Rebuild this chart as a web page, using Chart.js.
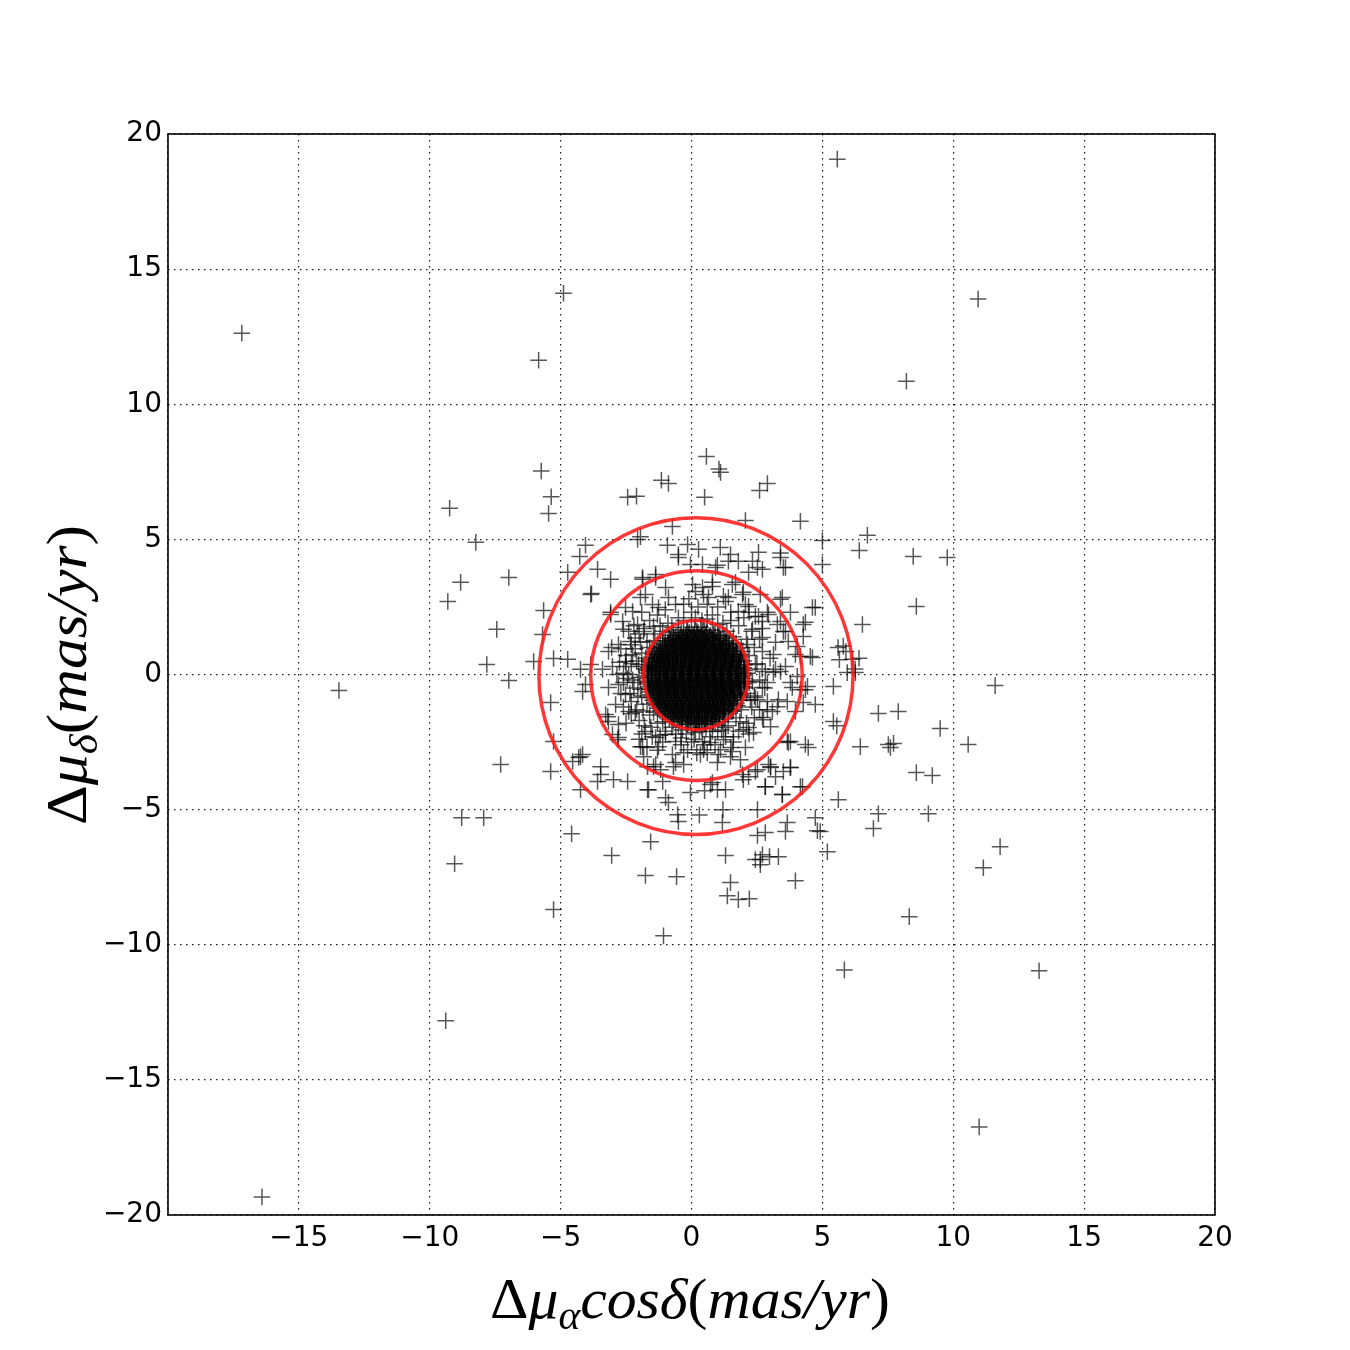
<!DOCTYPE html>
<html><head><meta charset="utf-8">
<script src="https://cdn.jsdelivr.net/npm/chart.js@4.4.1/dist/chart.umd.min.js"></script>
<style>html,body{margin:0;padding:0;background:#fff}</style>
</head><body>
<canvas id="c" width="1350" height="1350"></canvas>
<script>
const xTicks = [-20,-15,-10,-5,0,5,10,15,20];
const yTicks = [-20,-15,-10,-5,0,5,10,15,20];

// individually read stars (proper-motion offsets, mas/yr)
const sparsePoints = [
[5.57,19.07],[-17.18,12.63],[-4.89,14.11],[10.95,13.89],[-5.84,11.63],[8.21,10.85],[-13.47,-0.59],[-16.41,-19.33],[10.99,-16.74],[-9.39,-12.81],[13.28,-10.96],[5.84,-10.93],[8.32,-8.96],[-1.07,-9.67],[-5.27,-8.70],
[-9.24,6.15],[-9.31,2.70],[-8.82,3.41],[-8.24,4.89],[-7.44,1.67],[-6.98,3.59],[-7.82,0.37],[-6.98,-0.22],[-7.29,-3.33],[-8.78,-5.30],[-7.94,-5.30],[-9.05,-7.00],
[-5.74,7.53],[-5.36,6.58],[-5.46,5.96],[-4.05,4.78],[-4.27,4.37],[-4.73,3.78],[-3.85,2.96],[-5.65,2.37],[-5.69,1.48],[-6.03,0.48],[-5.27,0.59],[-4.73,0.56],
[-4.58,-5.89],[-3.05,-6.70],[-1.56,-6.19],[-1.76,-7.44],[-0.57,-7.48],[1.30,-6.70],[1.49,-7.70],[1.37,-8.19],[1.79,-8.33],[2.21,-8.30],[3.97,-7.63],[2.63,-6.85],[2.98,-6.74],[2.52,-5.96],[2.82,-5.85],[4.81,-5.78],[5.19,-6.56],[5.61,-4.63],[6.95,-5.70],[7.14,-5.15],
[7.14,-1.44],[7.90,-1.37],[7.52,-2.59],[7.72,-2.55],[7.60,-2.70],[6.45,-2.67],[8.59,-3.63],[9.20,-3.74],[9.05,-5.15],[9.50,-2.00],[10.57,-2.59],[11.60,-0.41],[11.15,-7.15],[11.79,-6.37],
[8.59,2.52],[8.47,4.37],[9.77,4.33],[6.72,5.15],[6.41,4.59],[6.53,1.85],[6.15,0.56],[4.16,5.67],[5.00,4.96],[5.00,4.07],[4.73,2.48],[4.27,1.85],[4.35,1.93],[4.62,2.48],
[5.60,1.00],[5.80,1.05],[5.90,0.85],[5.65,0.55],[6.40,0.60],[6.25,0.20],[4.62,0.63],[4.16,0.67],[5.95,0.07],[6.26,0.07],
[0.57,8.07],[1.11,7.48],[1.05,7.60],[0.50,6.56],[2.60,6.81],[2.90,7.07],[2.06,5.70],[-1.15,7.19],[-0.88,7.07],[-2.44,6.56],[-2.10,6.60],[-2.06,5.00],[-1.95,5.10],[-0.73,5.48],[-0.92,4.78],[-0.50,4.44],[-0.15,4.81],[0.27,4.63],[1.10,4.70],[-0.04,4.07],[-1.87,3.59],[-1.37,3.59],
[1.49,4.44],[1.79,4.19],[2.56,4.52],[3.40,4.33],[3.59,3.96],[2.52,3.96],[2.18,3.78],[0.99,4.04],[0.42,4.07],[0.92,3.96],[1.41,4.19],[2.33,4.19],[2.71,3.89],[3.51,3.96],[3.40,4.50],
[0.80,3.41],[0.46,2.96],[1.22,2.89],[1.68,3.41],[1.98,3.04],[2.18,2.52],[2.63,2.96],[2.56,2.15],[2.90,2.30],[3.40,1.96],[3.51,1.59],[3.78,2.30],[4.04,1.04],[4.27,1.41],[4.54,0.67],[3.40,2.78],
[0.42,3.22],[0.80,3.26],[0.65,2.85],[1.56,3.33],[1.41,2.85],[1.95,2.96],[2.06,2.59],[1.79,2.33],[2.44,2.15],[2.71,1.96],[2.94,2.22],[3.47,2.85],[3.28,1.85],[3.59,1.59],[2.33,1.67],[2.71,1.37],[3.21,1.19],[3.70,1.22],[2.71,0.85],[3.13,0.74],[3.59,0.30],[3.97,0.74],[2.44,0.37],[2.82,0.11],[3.21,0.19],[2.14,1.11],
[-1.87,3.52],[-1.37,3.70],[-0.50,4.33],[-1.95,2.85],[-1.76,2.96],[-0.99,3.22],[-0.88,2.85],[0.04,3.33],[0.15,3.07],[-2.52,2.48],[-2.25,2.33],[-1.49,2.59],[-1.26,2.48],[-0.61,2.59],[-3.09,2.22],[-2.63,1.96],[-2.60,1.67],[-2.06,1.85],[-1.83,1.59],[-1.45,1.78],[-3.17,0.85],[-2.79,1.11],[-2.33,1.22],[-2.25,0.74],[-3.85,0.37],[-3.40,0.19],[-4.24,0.19],[-3.02,0.30],[-2.52,0.48],[-2.02,0.37],[-3.82,3.00],[-3.09,2.30],[-3.05,1.00],[-3.59,3.89],[-3.09,3.52],
[-4.05,-0.37],[-4.16,-0.63],[-3.17,-0.48],[-2.79,-0.37],[-2.52,-0.74],[-2.90,-1.11],[-3.28,-1.48],[-3.17,-1.74],[-2.79,-1.85],[-3.02,-2.22],[-2.79,-2.33],[-2.40,-1.37],[-2.15,-1.40],[-1.76,-2.11],[-1.37,-2.33],[-1.87,-2.67],[-1.26,-2.67],[-0.99,-2.22],[-0.61,-2.48],[-0.73,-2.96],[-1.37,-3.33],[-1.68,-3.41],[-0.61,-3.26],[-4.31,-3.07],[-4.16,-2.96],[-3.47,-3.41],[-3.47,-3.70],[-2.98,-3.89],[-2.44,-3.96],[-1.68,-4.26],[-1.10,-3.96],[-0.04,-4.37],[-0.30,-3.33],
[-5.38,-1.04],[-5.27,-2.48],[-5.38,-3.59],[-4.24,-3.04],[-4.54,-3.22],[-3.59,-3.96],[-4.24,-4.26],[-1.64,-4.26],[-0.99,-4.56],[-0.88,-4.74],[-0.53,-5.19],[-0.50,-5.44],[-3.20,-1.56],[-2.82,-2.41],[-1.95,-2.67],[-1.83,-3.04],[-1.45,-3.41],[-1.18,-3.52],[-0.69,-3.41],[-0.15,-2.78],
[5.42,-0.44],[5.42,-1.74],[5.55,-1.90],[4.73,-5.30],[4.92,-5.81],[3.66,-5.48],[3.59,-5.81],[2.52,-5.00],[1.18,-5.48],[2.71,-6.67],[3.32,-6.74],[2.44,-6.85],[2.63,-7.04],[4.35,-2.59],[3.78,-2.48],[3.66,-2.48],[3.78,-3.44],[4.16,-4.15],[3.47,-4.44],[2.82,-4.15],[3.02,-3.44],[4.73,-1.11],[4.27,-1.04],[4.43,-0.44],[3.78,-0.30],[4.16,-0.56],[4.04,-0.07],[3.13,0.07],[3.40,0.11],
[2.52,-0.93],[2.90,-1.30],[3.28,-1.19],[3.66,-1.00],[2.75,-1.67],[3.02,-1.93],[2.37,-2.15],[1.98,-2.04],[1.60,-2.30],[1.22,-2.41],[0.73,-2.52],[0.46,-2.78],[0.34,-2.96],[1.11,-2.78],[1.49,-3.04],[0.99,-3.26],[1.87,-3.15],[2.52,-3.52],[3.02,-3.41],[3.21,-3.78],[3.78,-3.44],[2.18,-3.78],[1.98,-3.89],[0.73,-4.07],[0.99,-4.26],[2.82,-4.15],[3.47,-4.44],[4.24,-4.15],
[2.33,-0.26],[2.71,-0.48],[2.44,-0.85],[3.09,-1.37],[3.32,-0.93],[3.85,-0.48],[4.35,-0.56],[3.97,-1.37],[2.71,-1.59],[2.18,-1.96],[1.30,-1.96],[0.80,-2.11],[0.42,-2.48],[1.03,-2.96],[1.56,-2.85],[2.06,-2.70],[2.94,-3.33],[2.44,-3.59],[1.95,-3.70],[3.51,-3.59],[3.70,-2.52],[4.46,-2.70],[0.80,-4.00],[1.30,-4.26],[0.50,-4.30],[1.20,-5.00],[0.30,-5.20],
[-0.50,2.10],[0.00,2.30],[0.40,2.00],[0.80,2.20],[1.20,1.90],[-0.90,1.90],[0.25,2.50],[-0.30,2.60],[0.60,2.60],[1.50,2.30],[-1.30,2.20],[1.00,2.50],
[-1.40,1.50],[-1.70,1.20],[-1.20,1.80],[-1.90,0.80],[-2.00,1.50],[-1.60,2.00],[-2.30,1.10],[-2.10,0.50],[-2.50,0.70],[-2.20,1.80],
[-1.80,0.20],[-2.00,-0.10],[-2.20,-0.50],[-1.90,-0.80],[-2.40,0.00],[-2.60,-0.30],[-2.50,0.30],[-2.30,-1.00],[-2.70,-0.70],[-2.10,-1.30],
[-1.60,-1.50],[-1.30,-1.80],[-1.80,-1.90],[-1.00,-2.10],[-1.50,-2.30],[-2.00,-1.70],[-0.60,-2.20],[-1.10,-2.50],[-1.90,-2.20],
[-0.20,-2.20],[0.30,-2.10],[0.70,-2.30],[0.00,-2.50],[0.50,-2.60],[-0.40,-2.60],[1.00,-2.10],[0.90,-2.60],[0.20,-2.90],
[1.40,-1.90],[1.70,-1.60],[1.90,-1.30],[1.30,-2.30],[1.80,-2.10],[2.10,-1.80],[2.30,-1.20],[2.40,-1.60],[1.60,-2.50],
[2.10,-0.70],[2.20,-0.30],[2.10,0.20],[2.40,-0.80],[2.60,-0.20],[2.50,0.40],[2.80,-0.50],[2.20,0.70],[2.70,0.20],[2.90,-1.00],
[1.90,1.00],[1.60,1.40],[2.10,1.30],[1.80,1.80],[2.40,1.00],[2.30,1.60],[1.50,2.00],[2.60,1.30],[2.00,2.10],
[-1.60,1.00],[-1.75,0.60],[-1.90,0.30],[-2.05,-0.30],[-1.95,-0.55],[-1.70,-1.10],[-1.45,-1.40],[-1.10,-1.75],[-0.75,-1.95],[-0.35,-2.05],[0.15,-2.15],[0.55,-2.00],[1.20,-1.75],[1.55,-1.35],[1.95,-0.95],[2.05,-0.50],[2.15,0.05],[2.00,0.50],[1.95,0.85],[1.70,1.15],[1.35,1.60],[1.00,1.85],[0.60,2.05],[0.15,2.10],[-0.30,2.00],[-0.75,1.75],[-1.10,1.60],[-1.45,1.25],
[-2.30,0.40],[-2.45,-0.15],[-2.35,-0.70],[-2.15,1.35],[-2.70,0.95],[-2.85,0.00],[-2.60,-1.20],[-2.40,1.60],[-1.90,2.30],[-1.00,2.40],[-0.10,2.80],[1.30,2.70],[2.20,2.30],[2.70,1.70],[3.00,0.60],[2.90,-0.30],[2.60,-1.30],[2.20,-2.20],[1.50,-2.70],[0.60,-2.90],[-0.30,-2.90],[-1.30,-2.80],[-2.00,-2.40],[-2.50,-1.80],[-1.70,-2.70],
[-2.15,0.95],[-1.95,1.20],[-2.25,-0.20],[-2.05,-0.85],[-1.85,-1.35],[-2.30,-1.45],[-1.55,-1.95],[-1.20,-2.25],[-0.40,-2.35],[0.10,-2.40],[1.15,-2.05],[1.85,-1.75],[2.25,-0.95],[-2.60,0.05],[-2.75,0.45],[-1.80,1.70]
];

// dense core, read row by row (y of each row, x values along it) - two interleaved passes
const coreRowY = [1.6,1.5,1.4,1.3,1.2,1.1,1.0,0.9,0.8,0.7,0.6,0.5,0.4,0.3,0.2,0.1,0.0,-0.1,-0.2,-0.3,-0.4,-0.5,-0.6,-0.7,-0.8,-0.9,-1.0,-1.1,-1.2,-1.3,-1.4,-1.5,-1.6,-1.7,-1.8];
const coreRowX = [
[-0.15,0.2,0.5],
[-0.42,-0.1,0.22,0.55,0.85],
[-0.62,-0.3,0.05,0.33,0.68,1.0],
[-0.8,-0.48,-0.2,0.15,0.45,0.77,1.1],
[-0.9,-0.6,-0.28,0.02,0.35,0.62,0.95,1.3],
[-1.02,-0.72,-0.4,-0.12,0.2,0.5,0.83,1.12,1.42],
[-1.1,-0.78,-0.5,-0.18,0.1,0.42,0.72,1.05,1.35],
[-1.2,-0.92,-0.6,-0.3,0.0,0.3,0.6,0.9,1.2,1.55],
[-1.25,-0.95,-0.65,-0.38,-0.05,0.25,0.55,0.88,1.18,1.48],
[-1.32,-1.05,-0.72,-0.42,-0.12,0.18,0.48,0.78,1.1,1.4,1.7],
[-1.38,-1.08,-0.8,-0.5,-0.2,0.12,0.4,0.72,1.02,1.35,1.65],
[-1.42,-1.15,-0.85,-0.55,-0.25,0.05,0.35,0.65,0.98,1.28,1.58,1.82],
[-1.45,-1.12,-0.82,-0.52,-0.2,0.1,0.42,0.7,1.0,1.32,1.62],
[-1.48,-1.2,-0.9,-0.58,-0.28,0.02,0.32,0.62,0.92,1.25,1.55,1.85],
[-1.5,-1.18,-0.88,-0.6,-0.3,0.0,0.28,0.6,0.9,1.22,1.52,1.88],
[-1.52,-1.22,-0.92,-0.62,-0.32,-0.02,0.3,0.58,0.88,1.2,1.5,1.8],
[-1.55,-1.25,-0.95,-0.65,-0.35,-0.05,0.25,0.55,0.85,1.15,1.45,1.75],
[-1.53,-1.2,-0.9,-0.6,-0.3,0.02,0.32,0.62,0.92,1.22,1.52,1.9],
[-1.55,-1.25,-0.95,-0.65,-0.35,-0.05,0.25,0.55,0.85,1.15,1.48,1.78],
[-1.5,-1.2,-0.88,-0.58,-0.28,0.05,0.35,0.65,0.95,1.25,1.55,1.85],
[-1.48,-1.18,-0.85,-0.55,-0.25,0.08,0.38,0.68,0.98,1.28,1.58,1.88],
[-1.45,-1.15,-0.82,-0.52,-0.22,0.1,0.4,0.7,1.02,1.32,1.62],
[-1.42,-1.1,-0.8,-0.5,-0.18,0.12,0.42,0.75,1.05,1.35,1.65],
[-1.4,-1.1,-0.78,-0.48,-0.15,0.15,0.45,0.78,1.08,1.4,1.7],
[-1.35,-1.05,-0.72,-0.42,-0.1,0.2,0.5,0.82,1.12,1.45,1.75],
[-1.3,-1.0,-0.68,-0.38,-0.08,0.22,0.52,0.85,1.15,1.48],
[-1.25,-0.95,-0.62,-0.32,-0.02,0.28,0.58,0.9,1.2,1.5],
[-1.2,-0.88,-0.58,-0.28,0.02,0.32,0.62,0.95,1.25,1.58],
[-1.12,-0.8,-0.5,-0.2,0.1,0.4,0.7,1.0,1.3],
[-1.02,-0.7,-0.4,-0.1,0.22,0.52,0.82,1.12,1.42],
[-0.92,-0.6,-0.3,0.0,0.32,0.62,0.92,1.25],
[-0.8,-0.5,-0.18,0.12,0.42,0.75,1.05],
[-0.65,-0.35,-0.02,0.3,0.62,0.95],
[-0.45,-0.12,0.2,0.5,0.82],
[-0.15,0.2,0.52]
];
const coreRowY2 = [1.75,1.65,1.55,1.45,1.35,1.25,1.15,1.05,0.95,0.85,0.75,0.65,0.55,0.45,0.35,0.25,0.15,0.05,-0.05,-0.15,-0.25,-0.35,-0.45,-0.55,-0.65,-0.75,-0.85,-0.95,-1.05,-1.15,-1.25,-1.35,-1.45,-1.55,-1.65,-1.75,-1.85,-1.95];
const coreRowX2 = [
[0.0,0.35],
[-0.5,-0.18,0.12,0.45,0.8],
[-0.7,-0.38,-0.08,0.25,0.58,0.9],
[-0.85,-0.55,-0.22,0.1,0.4,0.72,1.05,1.28],
[-1.0,-0.68,-0.35,-0.05,0.28,0.58,0.9,1.22],
[-1.1,-0.8,-0.48,-0.15,0.15,0.48,0.8,1.1,1.45],
[-1.2,-0.88,-0.55,-0.25,0.05,0.38,0.68,1.0,1.3,1.6],
[-1.28,-0.95,-0.65,-0.35,-0.02,0.28,0.6,0.92,1.22,1.55],
[-1.35,-1.02,-0.7,-0.4,-0.08,0.22,0.52,0.85,1.15,1.45,1.75],
[-1.42,-1.12,-0.78,-0.48,-0.15,0.15,0.45,0.78,1.08,1.4,1.72],
[-1.48,-1.15,-0.85,-0.52,-0.22,0.08,0.4,0.7,1.02,1.32,1.62,1.88],
[-1.52,-1.22,-0.9,-0.58,-0.28,0.05,0.35,0.65,0.95,1.28,1.6,1.9],
[-1.55,-1.25,-0.92,-0.62,-0.3,0.0,0.3,0.62,0.92,1.25,1.55,1.85],
[-1.6,-1.3,-0.98,-0.68,-0.35,-0.05,0.25,0.58,0.88,1.18,1.5,1.8],
[-1.62,-1.32,-1.0,-0.7,-0.38,-0.08,0.22,0.52,0.85,1.15,1.48,1.78,2.02],
[-1.65,-1.35,-1.05,-0.72,-0.42,-0.12,0.18,0.5,0.8,1.1,1.42,1.72,2.0],
[-1.65,-1.35,-1.02,-0.7,-0.4,-0.1,0.2,0.52,0.82,1.12,1.45,1.75,2.05],
[-1.68,-1.38,-1.08,-0.75,-0.45,-0.15,0.15,0.45,0.78,1.08,1.38,1.7,2.0],
[-1.66,-1.35,-1.05,-0.78,-0.48,-0.18,0.12,0.42,0.72,1.02,1.35,1.65,1.98],
[-1.68,-1.38,-1.08,-0.75,-0.45,-0.12,0.18,0.48,0.78,1.1,1.4,1.7,2.02],
[-1.65,-1.35,-1.02,-0.72,-0.42,-0.1,0.2,0.5,0.82,1.12,1.42,1.75,2.05],
[-1.66,-1.32,-1.0,-0.7,-0.38,-0.08,0.22,0.55,0.85,1.15,1.48,1.78,2.0],
[-1.62,-1.3,-0.98,-0.68,-0.35,-0.05,0.25,0.58,0.88,1.18,1.5,1.8,2.02],
[-1.6,-1.28,-0.95,-0.65,-0.32,-0.02,0.28,0.6,0.9,1.2,1.52,1.82],
[-1.58,-1.25,-0.92,-0.62,-0.3,0.0,0.32,0.62,0.92,1.22,1.55,1.85],
[-1.55,-1.22,-0.9,-0.6,-0.28,0.02,0.35,0.65,0.95,1.25,1.58,1.88],
[-1.52,-1.2,-0.88,-0.55,-0.25,0.08,0.38,0.68,1.0,1.3,1.62,1.9],
[-1.48,-1.15,-0.82,-0.52,-0.2,0.1,0.42,0.72,1.02,1.35,1.65,1.88],
[-1.42,-1.1,-0.78,-0.48,-0.15,0.15,0.45,0.78,1.08,1.4,1.72],
[-1.35,-1.05,-0.72,-0.42,-0.1,0.2,0.5,0.82,1.12,1.45,1.75],
[-1.28,-0.98,-0.65,-0.35,-0.05,0.25,0.58,0.88,1.2,1.52],
[-1.2,-0.9,-0.58,-0.28,0.02,0.32,0.65,0.95,1.28,1.6],
[-1.1,-0.78,-0.48,-0.18,0.12,0.42,0.75,1.05,1.4],
[-1.0,-0.7,-0.38,-0.08,0.25,0.55,0.88,1.2],
[-0.85,-0.55,-0.22,0.08,0.4,0.72,1.05,1.25],
[-0.7,-0.38,-0.05,0.28,0.6,0.9],
[-0.5,-0.15,0.15,0.48,0.8],
[0.0,0.38]
];

// red rings: centre and radii (data units)
const ringCenterX = [0.17,0.19,0.17];
const ringCenterY = [-0.02,-0.04,-0.06];
const ringRadiusX = [2.0,4.04,6.0];
const ringRadiusY = [2.02,3.88,5.86];

const points = sparsePoints.map(p => ({x:p[0], y:p[1]}));
coreRowY.forEach((y, i) => coreRowX[i].forEach(x => points.push({x, y})));
coreRowY2.forEach((y, i) => coreRowX2[i].forEach(x => points.push({x, y})));

const fmt = v => v < 0 ? '\u2212' + Math.abs(v) : String(v);

const decorPlugin = {
  id:'decor',
  afterDatasetsDraw(chart){
    const {ctx, chartArea:a, scales:{x, y}} = chart;
    ctx.save();
    ctx.beginPath(); ctx.rect(a.left, a.top, a.right-a.left, a.bottom-a.top); ctx.clip();
    ctx.strokeStyle = 'rgba(255,20,20,0.85)';
    ctx.lineWidth = 3.5;
    for (let i=0;i<ringCenterX.length;i++){
      const cx = x.getPixelForValue(ringCenterX[i]);
      const cy = y.getPixelForValue(ringCenterY[i]);
      const rx = Math.abs(x.getPixelForValue(ringCenterX[i]+ringRadiusX[i]) - cx);
      const ry = Math.abs(y.getPixelForValue(ringCenterY[i]+ringRadiusY[i]) - cy);
      ctx.beginPath(); ctx.ellipse(cx, cy, rx, ry, 0, 0, Math.PI*2); ctx.stroke();
    }
    ctx.restore();
    ctx.save();
    ctx.strokeStyle = '#000'; ctx.lineWidth = 1.6;
    ctx.strokeRect(a.left, a.top, a.right-a.left, a.bottom-a.top);
    ctx.restore();
  },
  afterDraw(chart){
    const ctx = chart.ctx;
    const S = 56;
    const up = `${S}px "Liberation Serif"`, it = `italic ${S}px "Liberation Serif"`, sub = `italic ${Math.round(S*0.7)}px "Liberation Serif"`;
    const drawParts = (parts, target) => {
      let w = 0;
      parts.forEach(p => { ctx.font = p.f; p.w = ctx.measureText(p.t).width; w += p.w; });
      ctx.scale(target / w, 1);
      let xx = -w/2;
      ctx.fillStyle = '#000'; ctx.textBaseline = 'alphabetic'; ctx.textAlign = 'left';
      parts.forEach(p => { ctx.font = p.f; ctx.fillText(p.t, xx, p.dy||0); xx += p.w; });
    };
    ctx.save();
    ctx.translate(690, 1318);
    drawParts([{t:'\u0394',f:up},{t:'\u03bc',f:it},{t:'\u03b1',f:sub,dy:11},{t:'cos\u03b4',f:it},{t:'(',f:up},{t:'mas/yr',f:it},{t:')',f:up}], 400);
    ctx.restore();
    ctx.save();
    ctx.translate(86, 675); ctx.rotate(-Math.PI/2);
    drawParts([{t:'\u0394',f:up},{t:'\u03bc',f:it},{t:'\u03b4',f:sub,dy:11},{t:'(',f:up},{t:'mas/yr',f:it},{t:')',f:up}], 300);
    ctx.restore();
  }
};

new Chart(document.getElementById('c'), {
  type:'scatter',
  data:{datasets:[{
    data:points,
    pointStyle:'cross',
    pointRadius:8.3,
    pointHoverRadius:8.3,
    pointBorderWidth:1.5,
    borderColor:'rgba(0,0,0,0.66)',
    backgroundColor:'rgba(0,0,0,0.66)'
  }]},
  options:{
    responsive:false, animation:false, devicePixelRatio:1, events:[],
    layout:{padding:{top:134, right:135, left:0, bottom:0}},
    plugins:{legend:{display:false}, tooltip:{enabled:false}},
    scales:{
      x:{type:'linear', min:-20, max:20,
        afterBuildTicks:s => { s.ticks = xTicks.map(v => ({value:v})); },
        afterFit:s => { s.height = 135; },
        ticks:{callback:v => v === -20 ? '' : fmt(v), font:{family:'DejaVu Sans', size:28}, color:'#000', padding:7, maxRotation:0, autoSkip:false},
        grid:{color:'rgba(0,0,0,0.9)', lineWidth:1.2, drawTicks:false},
        border:{display:false, dash:[1.5,4.5]}
      },
      y:{type:'linear', min:-20, max:20,
        afterBuildTicks:s => { s.ticks = yTicks.map(v => ({value:v})); },
        afterFit:s => { s.width = 168; },
        ticks:{callback:v => fmt(v), font:{family:'DejaVu Sans', size:28}, color:'#000', padding:6, autoSkip:false},
        grid:{color:'rgba(0,0,0,0.9)', lineWidth:1.2, drawTicks:false},
        border:{display:false, dash:[1.5,4.5]}
      }
    }
  },
  plugins:[decorPlugin]
});
</script>
</body></html>
